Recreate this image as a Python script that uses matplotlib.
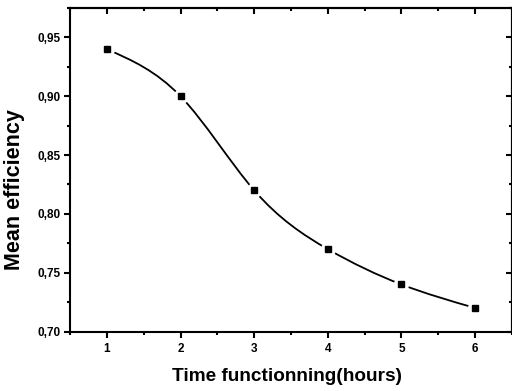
import numpy as np
import matplotlib
matplotlib.use("Agg")
import matplotlib.pyplot as plt
from matplotlib.path import Path
from matplotlib.patches import PathPatch
from matplotlib.ticker import MultipleLocator, FixedLocator

hours = [1, 2, 3, 4, 5, 6]
efficiency = [0.94, 0.90, 0.82, 0.77, 0.74, 0.72]
x_ticks = [1, 2, 3, 4, 5, 6]
x_tick_labels = ["1", "2", "3", "4", "5", "6"]
y_ticks = [0.70, 0.75, 0.80, 0.85, 0.90, 0.95]
y_tick_labels = ["0,70", "0,75", "0,80", "0,85", "0,90", "0,95"]

plt.rcParams['font.family'] = ['Liberation Sans', 'DejaVu Sans']
plt.rcParams['font.weight'] = 'bold'

fig = plt.figure(figsize=(5.12, 3.91), dpi=100)
ax = fig.add_axes([70/512, 59.5/391, 442/512, 323.5/391])

# natural cubic spline slopes -> bezier path
x = np.array(hours, float)
y = np.array(efficiency, float)
n = len(x)
h = np.diff(x)
A = np.zeros((n, n)); b = np.zeros(n)
A[0, 0] = 1; A[-1, -1] = 1
for i in range(1, n - 1):
    A[i, i - 1] = h[i - 1]
    A[i, i] = 2 * (h[i - 1] + h[i])
    A[i, i + 1] = h[i]
    b[i] = 6 * ((y[i + 1] - y[i]) / h[i] - (y[i] - y[i - 1]) / h[i - 1])
M = np.linalg.solve(A, b)
verts = [(x[0], y[0])]
codes = [Path.MOVETO]
for i in range(n - 1):
    hi = h[i]
    m0 = (y[i + 1] - y[i]) / hi - hi * (2 * M[i] + M[i + 1]) / 6
    m1 = (y[i + 1] - y[i]) / hi + hi * (M[i] + 2 * M[i + 1]) / 6
    verts += [(x[i] + hi / 3, y[i] + m0 * hi / 3),
              (x[i + 1] - hi / 3, y[i + 1] - m1 * hi / 3),
              (x[i + 1], y[i + 1])]
    codes += [Path.CURVE4] * 3
ax.add_patch(PathPatch(Path(verts, codes), facecolor='none', edgecolor='black',
                       lw=1.3, transform=ax.transData, zorder=2))
ax.plot(hours, efficiency, linestyle='none', marker='o', ms=10, mfc='white',
        mec='white', zorder=3)
ax.plot(hours, efficiency, linestyle='none', marker='s', ms=5, mfc='black',
        mec='black', zorder=4)

ax.set_xlim(0.5, 6.5)
ax.set_ylim(0.70, 0.975)
ax.xaxis.set_major_locator(FixedLocator(x_ticks))
ax.set_xticklabels(x_tick_labels)
ax.yaxis.set_major_locator(FixedLocator(y_ticks))
ax.set_yticklabels(y_tick_labels)
ax.xaxis.set_minor_locator(MultipleLocator(0.5))
ax.yaxis.set_minor_locator(MultipleLocator(0.025))
for s in ax.spines.values():
    s.set_linewidth(1.5)
ax.tick_params(which='major', direction='out', length=4.5, width=1.5,
               labelsize=8.5, pad=2.5)
ax.tick_params(axis='x', which='major', pad=4)
ax.tick_params(which='minor', direction='out', length=2.5, width=1.5)

secx = ax.secondary_xaxis('top')
secx.xaxis.set_major_locator(FixedLocator(x_ticks))
secx.xaxis.set_minor_locator(MultipleLocator(0.5))
secx.tick_params(which='major', direction='in', length=4.5, width=1.5, labeltop=False)
secx.tick_params(which='minor', direction='in', length=2.5, width=1.5)
secx.spines['top'].set_linewidth(1.5)
secy = ax.secondary_yaxis('right')
secy.yaxis.set_major_locator(FixedLocator(y_ticks))
secy.yaxis.set_minor_locator(MultipleLocator(0.025))
secy.tick_params(which='major', direction='in', length=4.5, width=1.5, labelright=False)
secy.tick_params(which='minor', direction='in', length=2.5, width=1.5)
secy.spines['right'].set_linewidth(1.5)

ax.set_xlabel("Time functionning(hours)", fontsize=13.7, fontweight='bold')
ax.set_ylabel("Mean efficiency", fontsize=15.5, fontweight='bold')
ax.xaxis.set_label_coords(0.49, -0.113)
ax.yaxis.set_label_coords(-0.102, 0.44)

fig.savefig("out.png", dpi=100)
